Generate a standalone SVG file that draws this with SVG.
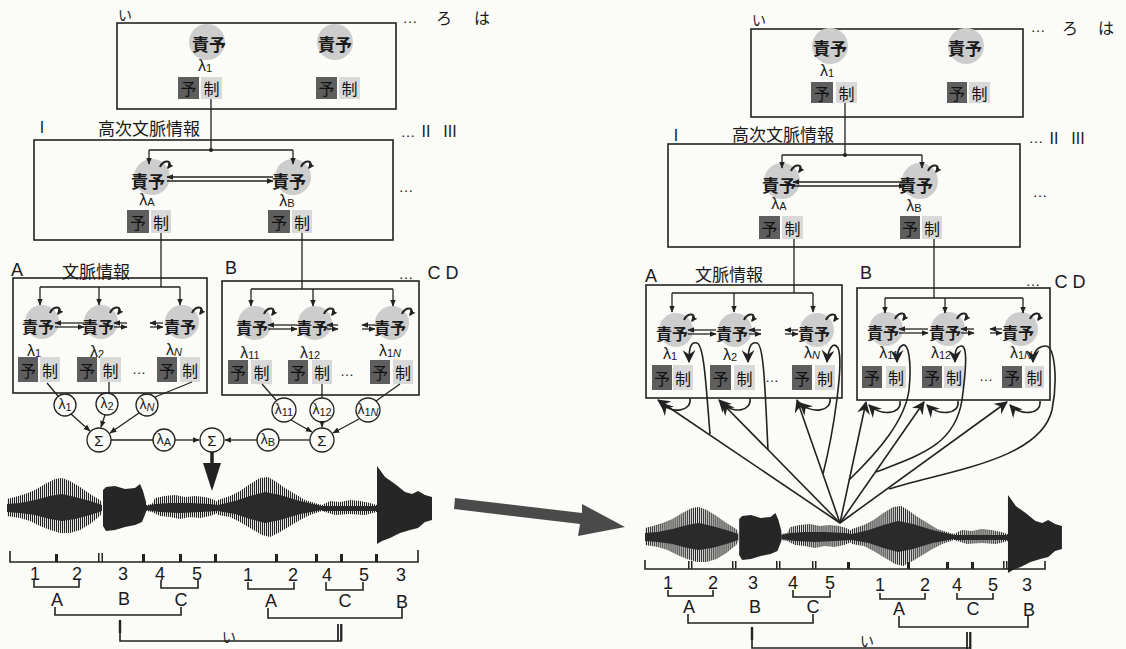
<svg xmlns="http://www.w3.org/2000/svg" xmlns:xlink="http://www.w3.org/1999/xlink" width="1126" height="649" viewBox="0 0 1126 649">
<style>
.box{fill:none;stroke:#222;stroke-width:1.6}
.ln{fill:none;stroke:#222;stroke-width:1.3}
.lt{fill:none;stroke:#222;stroke-width:1.6}
.bub{fill:#cdcdcd}
.yo{fill:#5e5e5e}
.sei{fill:#d9d9d9}
.kj{font-family:"Noto Sans CJK JP","Noto Sans CJK SC",sans-serif;font-weight:700;font-size:17px;fill:#1a1a1a;text-anchor:middle;dominant-baseline:central}
.k3{font-size:16px}
.pk{font-family:"Noto Sans CJK JP","Noto Sans CJK SC",sans-serif;font-size:16px;fill:#111;text-anchor:middle;dominant-baseline:central}
.jp{font-family:"Noto Sans CJK JP","Noto Sans CJK SC",sans-serif;font-size:17px;fill:#1a1a1a;dominant-baseline:central}
.lb{font-family:"Liberation Sans",Arial,sans-serif;font-size:18px;fill:#1a1a1a;text-anchor:middle;dominant-baseline:central}
.lam{font-family:"Liberation Sans",Arial,sans-serif;font-size:16px;fill:#1a1a1a;text-anchor:middle;dominant-baseline:central}
.cl{font-family:"Liberation Sans",Arial,sans-serif;font-size:14px;fill:#1a1a1a;text-anchor:middle;dominant-baseline:central}
.sub{font-size:11px}
.cc{fill:#fbfbf8;stroke:#222;stroke-width:1.3}
.loop{fill:none;stroke:#222;stroke-width:2}
.thk{fill:none;stroke:#222;stroke-width:1.6}
</style>
<defs>
<marker id="ah" viewBox="0 0 10 10" refX="9" refY="5" markerWidth="7" markerHeight="7" orient="auto" markerUnits="userSpaceOnUse"><path d="M0,1 L10,5 L0,9 z" fill="#222"/></marker>
<marker id="sm" viewBox="0 0 10 10" refX="8" refY="5" markerWidth="6" markerHeight="6" orient="auto" markerUnits="userSpaceOnUse"><path d="M0,0 L10,5 L0,10 z" fill="#222"/></marker>
<marker id="chev" viewBox="0 0 12 12" refX="11" refY="6" markerWidth="13" markerHeight="13" orient="auto" markerUnits="userSpaceOnUse"><path d="M0,0 L12,6 L0,12 L4,6 z" fill="#222"/></marker>
<pattern id="vs" width="2" height="4" patternUnits="userSpaceOnUse"><rect width="1.1" height="4" fill="#222"/></pattern>
<g id="wave">
<polygon fill="url(#vs)" points="7,499 15,497 25,494 35,490 45,484 55,479 62,478 70,481 80,487 90,494 100,500 102,503 102,513 100,516 90,524 80,530 70,533 60,533 50,530 40,526 30,521 20,518 7,516"/>
<polygon fill="#2a2a2a" points="7,504 20,503 35,500 50,496 62,494 75,497 90,501 102,505 102,511 90,515 75,519 62,521 50,519 35,515 20,513 7,512"/>
<polygon fill="#262626" points="103,490 106,487 115,486 125,489 135,488 140,484 143,491 146,502 146,512 142,522 135,525 125,527 115,530 106,531 103,526"/>
<polygon fill="url(#vs)" points="146,505 152,504 155,498 165,496 175,495 185,497 195,496 205,497 212,499 218,502 218,513 210,516 200,518 190,517 180,519 170,517 160,516 152,512 146,511"/>
<polygon fill="#2a2a2a" points="146,506 155,504 170,503 190,503 210,504 218,505 218,511 200,512 180,513 160,512 146,510"/>
<polygon fill="url(#vs)" points="218,500 230,496 240,491 250,484 260,478 268,477 275,481 285,488 295,494 305,500 315,503 322,505 322,511 310,515 300,520 290,526 280,532 270,537 262,535 250,528 240,522 230,517 218,515"/>
<polygon fill="#2a2a2a" points="218,505 235,501 250,496 265,492 280,495 300,501 322,506 322,510 300,514 280,520 265,523 250,519 235,514 218,511"/>
<polygon fill="url(#vs)" points="322,505 330,501 340,502 350,500 360,501 370,503 377,505 377,512 365,515 350,514 335,515 322,511"/>
<polygon fill="#2a2a2a" points="322,506 377,506 377,511 322,511"/>
<polygon fill="#262626" points="377,466 380,470 385,477 395,484 405,492 412,494 418,491 425,495 432,497 432,520 425,522 418,528 410,530 400,533 390,538 382,541 377,544"/>
</g>
</defs>
<rect width="1126" height="649" fill="#fbfbf8"/>

<!-- ===== LEFT PANEL ===== -->
<g id="left-boxes">
<rect class="box" x="117" y="23" width="279" height="86"/>
<rect class="box" x="34" y="140" width="359" height="100"/>
<rect class="box" x="13" y="278" width="194" height="115"/>
<rect class="box" x="222" y="281" width="197" height="114"/>
</g>
<g id="left-labels">
<text class="jp" x="118" y="14" style="font-size:14px">い</text>
<text class="lb" x="410" y="17" style="font-size:15px">…</text>
<text class="jp" x="436" y="17" style="font-size:16px">ろ</text>
<text class="jp" x="474" y="17" style="font-size:16px">は</text>
<text class="lb" x="42" y="127" style="font-size:16px">I</text>
<text class="jp" x="98" y="127">高次文脈情報</text>
<text class="lb" x="408" y="131" style="font-size:15px">…</text>
<text class="lb" x="426" y="131" style="font-size:16px">II</text>
<text class="lb" x="450" y="131" style="font-size:16px">III</text>
<text class="lb" x="406" y="186" style="font-size:15px">…</text>
<text class="lb" x="17" y="270">A</text>
<text class="jp" x="62" y="270">文脈情報</text>
<text class="lb" x="231" y="268">B</text>
<text class="lb" x="406" y="273" style="font-size:15px">…</text>
<text class="lb" x="434" y="273">C</text>
<text class="lb" x="452" y="273">D</text>
</g>

<g id="L1-n1">
<circle class="bub" cx="207" cy="42" r="18"/><text class="kj" x="209" y="43">責予</text>
<text class="lam" x="205" y="65">λ<tspan class="sub" dy="3">1</tspan></text>
<rect class="yo" x="178" y="77" width="21" height="22"/><text class="pk" x="188.5" y="88">予</text>
<rect class="sei" x="201" y="77" width="21" height="22"/><text class="pk" x="211.5" y="88">制</text>
</g>
<g id="L1-n2">
<circle class="bub" cx="335" cy="42" r="18"/><text class="kj" x="335" y="43">責予</text>
<rect class="yo" x="316" y="77" width="21" height="22"/><text class="pk" x="326.5" y="88">予</text>
<rect class="sei" x="339" y="77" width="21" height="22"/><text class="pk" x="349.5" y="88">制</text>
</g>
<g id="L2-A">
<circle class="bub" cx="152" cy="177" r="18"/><text class="kj" x="148" y="180">責予</text>
<text class="lam" x="147" y="199">λ<tspan class="sub" dy="3">A</tspan></text>
<rect class="yo" x="127" y="210" width="22" height="23"/><text class="pk" x="138" y="221.5">予</text>
<rect class="sei" x="151" y="210" width="20" height="23"/><text class="pk" x="161" y="221.5">制</text>
</g>
<g id="L2-B">
<circle class="bub" cx="293" cy="177" r="18"/><text class="kj" x="289" y="180">責予</text>
<text class="lam" x="287" y="200">λ<tspan class="sub" dy="3">B</tspan></text>
<rect class="yo" x="268" y="210" width="22" height="23"/><text class="pk" x="279" y="221.5">予</text>
<rect class="sei" x="292" y="210" width="20" height="23"/><text class="pk" x="302" y="221.5">制</text>
</g>
<g id="LA-1">
<circle class="bub" cx="42" cy="322" r="17"/><text class="kj k3" x="38" y="326">責予</text>
<text class="lam" x="34" y="350">λ<tspan class="sub" dy="3">1</tspan></text>
<rect class="yo" x="18" y="357" width="20" height="25"/><text class="pk" x="28" y="369.5">予</text>
<rect class="sei" x="40" y="357" width="20" height="25"/><text class="pk" x="50" y="369.5">制</text>
</g>
<g id="LA-2">
<circle class="bub" cx="101" cy="322" r="17"/><text class="kj k3" x="98" y="326">責予</text>
<text class="lam" x="97" y="351">λ<tspan class="sub" dy="3">2</tspan></text>
<rect class="yo" x="77" y="357" width="20" height="25"/><text class="pk" x="87" y="369.5">予</text>
<rect class="sei" x="100" y="357" width="21" height="25"/><text class="pk" x="110.5" y="369.5">制</text>
</g>
<g id="LA-N">
<circle class="bub" cx="182" cy="322" r="17"/><text class="kj k3" x="180" y="326">責予</text>
<text class="lam" x="174" y="349">λ<tspan class="sub" dy="3" font-style="italic">N</tspan></text>
<rect class="yo" x="157" y="357" width="20" height="25"/><text class="pk" x="167" y="369.5">予</text>
<rect class="sei" x="180" y="357" width="20" height="25"/><text class="pk" x="190" y="369.5">制</text>
</g>
<text class="lb" x="139" y="369" style="font-size:14px">…</text>
<g id="LB-1">
<circle class="bub" cx="255" cy="323" r="17"/><text class="kj k3" x="252" y="327">責予</text>
<text class="lam" x="250" y="352">λ<tspan class="sub" dy="3">11</tspan></text>
<rect class="yo" x="228" y="360" width="20" height="24"/><text class="pk" x="238" y="372">予</text>
<rect class="sei" x="251" y="360" width="21" height="24"/><text class="pk" x="261.5" y="372">制</text>
</g>
<g id="LB-2">
<circle class="bub" cx="315" cy="323" r="17"/><text class="kj k3" x="312" y="327">責予</text>
<text class="lam" x="310" y="352">λ<tspan class="sub" dy="3">12</tspan></text>
<rect class="yo" x="288" y="360" width="20" height="24"/><text class="pk" x="298" y="372">予</text>
<rect class="sei" x="312" y="360" width="20" height="24"/><text class="pk" x="322" y="372">制</text>
</g>
<g id="LB-N">
<circle class="bub" cx="392" cy="323" r="17"/><text class="kj k3" x="390" y="327">責予</text>
<text class="lam" x="390" y="350">λ<tspan class="sub" dy="3">1<tspan font-style="italic">N</tspan></tspan></text>
<rect class="yo" x="370" y="360" width="20" height="24"/><text class="pk" x="380" y="372">予</text>
<rect class="sei" x="393" y="360" width="20" height="24"/><text class="pk" x="403" y="372">制</text>
</g>
<text class="lb" x="347" y="371" style="font-size:14px">…</text>

<g id="left-circles">
<g id="c-l1"><circle class="cc" cx="65" cy="405" r="11"/><text class="cl" x="65" y="404">λ<tspan class="sub" dy="3">1</tspan></text></g>
<g id="c-l2"><circle class="cc" cx="107" cy="404" r="11"/><text class="cl" x="107" y="403">λ<tspan class="sub" dy="3">2</tspan></text></g>
<g id="c-lN"><circle class="cc" cx="147" cy="405" r="11"/><text class="cl" x="147" y="404">λ<tspan class="sub" dy="3" font-style="italic">N</tspan></text></g>
<g id="c-s1"><circle class="cc" cx="99" cy="440" r="12"/><text class="cl" x="99" y="440" style="font-size:15px">Σ</text></g>
<g id="c-lA"><circle class="cc" cx="164" cy="440" r="11"/><text class="cl" x="164" y="439">λ<tspan class="sub" dy="3">A</tspan></text></g>
<g id="c-s0"><circle class="cc" cx="212" cy="440" r="12"/><text class="cl" x="212" y="440" style="font-size:15px">Σ</text></g>
<g id="c-lB"><circle class="cc" cx="268" cy="440" r="11"/><text class="cl" x="268" y="439">λ<tspan class="sub" dy="3">B</tspan></text></g>
<g id="c-s2"><circle class="cc" cx="322" cy="440" r="12"/><text class="cl" x="322" y="440" style="font-size:15px">Σ</text></g>
<g id="c-l11"><circle class="cc" cx="284" cy="410" r="12"/><text class="cl" x="284" y="409">λ<tspan class="sub" dy="3">11</tspan></text></g>
<g id="c-l12"><circle class="cc" cx="322" cy="410" r="12"/><text class="cl" x="322" y="409">λ<tspan class="sub" dy="3">12</tspan></text></g>
<g id="c-l1N"><circle class="cc" cx="368" cy="410" r="12"/><text class="cl" x="368" y="409">λ<tspan class="sub" dy="3">1<tspan font-style="italic">N</tspan></tspan></text></g>
</g>

<g id="left-connectors">
<path class="ln" d="M211,99 V150 M149,150 H293"/>
<circle cx="211" cy="150" r="2" fill="#222"/>
<path class="ln" d="M149,150 V164" marker-end="url(#ah)"/>
<path class="ln" d="M293,150 V164" marker-end="url(#ah)"/>
<path class="ln" d="M273,177 H167" marker-end="url(#ah)"/>
<path class="ln" d="M167,181 H273" marker-end="url(#ah)"/>
<path class="ln" d="M161,233 V287 M40,287 H180"/>
<path class="ln" d="M40,287 V305" marker-end="url(#ah)"/>
<path class="ln" d="M99,287 V305" marker-end="url(#ah)"/>
<path class="ln" d="M180,287 V305" marker-end="url(#ah)"/>
<path class="ln" d="M302,233 V289 M251,289 H393"/>
<path class="ln" d="M251,289 V306" marker-end="url(#ah)"/>
<path class="ln" d="M313,289 V306" marker-end="url(#ah)"/>
<path class="ln" d="M393,289 V306" marker-end="url(#ah)"/>
<path class="ln" d="M84,323 H55" marker-end="url(#ah)"/>
<path class="ln" d="M55,327 H84" marker-end="url(#ah)"/>
<path class="ln" d="M127,323 H114" marker-end="url(#ah)"/>
<path class="ln" d="M114,327 H127" marker-end="url(#ah)"/>
<path class="ln" d="M163,323 H150" marker-end="url(#ah)"/>
<path class="ln" d="M150,327 H163" marker-end="url(#ah)"/>
<path class="ln" d="M297,325 H268" marker-end="url(#ah)"/>
<path class="ln" d="M268,329 H297" marker-end="url(#ah)"/>
<path class="ln" d="M338,325 H327" marker-end="url(#ah)"/>
<path class="ln" d="M327,329 H338" marker-end="url(#ah)"/>
<path class="ln" d="M375,325 H362" marker-end="url(#ah)"/>
<path class="ln" d="M362,329 H375" marker-end="url(#ah)"/>
<path class="loop" d="M160,167 C163,159 174,160 168,168" marker-end="url(#sm)"/>
<path class="loop" d="M301,167 C304,159 315,160 309,168" marker-end="url(#sm)"/>
<path class="loop" d="M50,313 C53,305 64,306 58,314" marker-end="url(#sm)"/>
<path class="loop" d="M110,313 C113,305 124,306 118,314" marker-end="url(#sm)"/>
<path class="loop" d="M192,313 C195,305 206,306 200,314" marker-end="url(#sm)"/>
<path class="loop" d="M264,314 C267,306 278,307 272,315" marker-end="url(#sm)"/>
<path class="loop" d="M324,314 C327,306 338,307 332,315" marker-end="url(#sm)"/>
<path class="loop" d="M402,314 C405,306 416,307 410,315" marker-end="url(#sm)"/>
<path class="ln" d="M47,383 L58,396 M109,382 V393 M192,382 L155,397"/>
<path class="ln" d="M71,414 L90,431" marker-end="url(#ah)"/>
<path class="ln" d="M105,415 L101,427" marker-end="url(#ah)"/>
<path class="ln" d="M139,413 L110,433" marker-end="url(#ah)"/>
<path class="ln" d="M111,440 H153"/>
<path class="ln" d="M175,440 H199" marker-end="url(#ah)"/>
<path class="ln" d="M310,440 H279"/>
<path class="ln" d="M257,440 H225" marker-end="url(#ah)"/>
<path class="ln" d="M262,384 L276,400 M322,384 V398 M400,384 L376,401"/>
<path class="ln" d="M291,420 L312,432" marker-end="url(#ah)"/>
<path class="ln" d="M322,422 V427" marker-end="url(#ah)"/>
<path class="ln" d="M359,419 L333,433" marker-end="url(#ah)"/>
<path d="M212,452 V466" stroke="#222" stroke-width="3.5"/>
<polygon points="203,463 221,463 212,491" fill="#222"/>
</g>

<g id="left-wave"><use href="#wave" xlink:href="#wave"/></g>
<g id="left-scale">
<path class="lt" d="M10,551 V562 H418 V550"/>
<g fill="#222">
<rect x="55" y="554" width="3" height="8"/><rect x="98" y="553" width="1.5" height="9"/><rect x="101.5" y="553" width="1.5" height="9"/>
<rect x="142" y="554" width="3" height="8"/><rect x="179" y="554" width="3" height="8"/><rect x="214" y="554" width="3" height="8"/>
<rect x="275" y="554" width="3" height="8"/><rect x="315" y="554" width="3" height="8"/><rect x="340" y="554" width="3" height="8"/><rect x="375" y="554" width="3" height="8"/>
</g>
<text class="lb" x="35" y="574">1</text><text class="lb" x="77" y="574">2</text><text class="lb" x="123" y="574">3</text><text class="lb" x="160" y="574">4</text><text class="lb" x="197" y="574">5</text>
<text class="lb" x="248" y="575">1</text><text class="lb" x="293" y="575">2</text><text class="lb" x="327" y="575">4</text><text class="lb" x="364" y="575">5</text><text class="lb" x="401" y="575">3</text>
<path class="lt" d="M34,580 V587 H79 V580 M161,580 V588 H198 V580 M248,582 V589 H294 V582 M326,582 V590 H363 V582"/>
<text class="lb" x="57" y="600">A</text><text class="lb" x="124" y="599">B</text><text class="lb" x="181" y="600">C</text>
<text class="lb" x="271" y="601">A</text><text class="lb" x="345" y="601">C</text><text class="lb" x="402" y="602">B</text>
<path class="lt" d="M55,607 V615 H181 V607 M268,608 V618 H402 V608"/>
<path class="lt" d="M120,620 V641 H341 V624"/>
<path d="M120,620 V633" stroke="#222" stroke-width="2.4"/>
<path d="M338,624 V641" stroke="#222" stroke-width="1.8"/>
<path d="M341.5,624 V641" stroke="#222" stroke-width="1.8"/>
<text class="jp" x="222" y="636" style="font-size:14px">い</text>
</g>

<g id="middle-arrow"><polygon points="455,498 582,513 582,504 625,527 578,536 580,524 454,509" fill="#4a4a4a"/></g>

<!-- ===== RIGHT PANEL ===== -->
<g id="right-boxes">
<rect class="box" x="751" y="29" width="272" height="88"/>
<rect class="box" x="668" y="144" width="352" height="103"/>
<rect class="box" x="646" y="285" width="196" height="113"/>
<rect class="box" x="857" y="288" width="193" height="112"/>
</g>
<g id="right-labels">
<text class="jp" x="752" y="19" style="font-size:14px">い</text>
<text class="lb" x="1038" y="26" style="font-size:15px">…</text>
<text class="jp" x="1062" y="27" style="font-size:16px">ろ</text>
<text class="jp" x="1098" y="27" style="font-size:16px">は</text>
<text class="lb" x="676" y="135" style="font-size:16px">I</text>
<text class="jp" x="732" y="133">高次文脈情報</text>
<text class="lb" x="1036" y="137" style="font-size:15px">…</text>
<text class="lb" x="1054" y="138" style="font-size:16px">II</text>
<text class="lb" x="1078" y="138" style="font-size:16px">III</text>
<text class="lb" x="1040" y="191" style="font-size:15px">…</text>
<text class="lb" x="651" y="276">A</text>
<text class="jp" x="695" y="273">文脈情報</text>
<text class="lb" x="866" y="273">B</text>
<text class="lb" x="1033" y="280" style="font-size:15px">…</text>
<text class="lb" x="1061" y="282">C</text>
<text class="lb" x="1079" y="282">D</text>
</g>

<g id="R1-n1">
<circle class="bub" cx="830" cy="46" r="18"/><text class="kj" x="830" y="47">責予</text>
<text class="lam" x="827" y="70">λ<tspan class="sub" dy="3">1</tspan></text>
<rect class="yo" x="811" y="82" width="22" height="21"/><text class="pk" x="822" y="92.5">予</text>
<rect class="sei" x="836" y="82" width="21" height="21"/><text class="pk" x="846.5" y="92.5">制</text>
</g>
<g id="R1-n2">
<circle class="bub" cx="966" cy="46" r="18"/><text class="kj" x="965" y="47">責予</text>
<rect class="yo" x="947" y="82" width="20" height="21"/><text class="pk" x="957" y="92.5">予</text>
<rect class="sei" x="969" y="82" width="21" height="21"/><text class="pk" x="979.5" y="92.5">制</text>
</g>
<g id="R2-A">
<circle class="bub" cx="782" cy="181" r="18"/><text class="kj" x="779" y="184">責予</text>
<text class="lam" x="779" y="203">λ<tspan class="sub" dy="3">A</tspan></text>
<rect class="yo" x="759" y="216" width="21" height="23"/><text class="pk" x="769.5" y="227.5">予</text>
<rect class="sei" x="782" y="216" width="21" height="23"/><text class="pk" x="792.5" y="227.5">制</text>
</g>
<g id="R2-B">
<circle class="bub" cx="920" cy="181" r="18"/><text class="kj" x="916" y="184">責予</text>
<text class="lam" x="914" y="205">λ<tspan class="sub" dy="3">B</tspan></text>
<rect class="yo" x="900" y="216" width="20" height="23"/><text class="pk" x="910" y="227.5">予</text>
<rect class="sei" x="922" y="216" width="20" height="23"/><text class="pk" x="932" y="227.5">制</text>
</g>
<g id="RA-1">
<circle class="bub" cx="676" cy="330" r="17"/><text class="kj k3" x="672" y="333">責予</text>
<text class="lam" x="670" y="353">λ<tspan class="sub" dy="3">1</tspan></text>
<rect class="yo" x="652" y="365" width="20" height="25"/><text class="pk" x="662" y="377.5">予</text>
<rect class="sei" x="673" y="365" width="20" height="25"/><text class="pk" x="683" y="377.5">制</text>
</g>
<g id="RA-2">
<circle class="bub" cx="735" cy="330" r="17"/><text class="kj k3" x="732" y="333">責予</text>
<text class="lam" x="730" y="354">λ<tspan class="sub" dy="3">2</tspan></text>
<rect class="yo" x="710" y="365" width="21" height="25"/><text class="pk" x="720.5" y="377.5">予</text>
<rect class="sei" x="734" y="365" width="21" height="25"/><text class="pk" x="744.5" y="377.5">制</text>
</g>
<g id="RA-N">
<circle class="bub" cx="817" cy="330" r="17"/><text class="kj k3" x="814" y="333">責予</text>
<text class="lam" x="812" y="352">λ<tspan class="sub" dy="3" font-style="italic">N</tspan></text>
<rect class="yo" x="792" y="365" width="20" height="25"/><text class="pk" x="802" y="377.5">予</text>
<rect class="sei" x="815" y="365" width="20" height="25"/><text class="pk" x="825" y="377.5">制</text>
</g>
<text class="lb" x="772" y="377" style="font-size:14px">…</text>
<g id="RB-1">
<circle class="bub" cx="886" cy="329" r="17"/><text class="kj k3" x="883" y="332">責予</text>
<text class="lam" x="889" y="352">λ<tspan class="sub" dy="3">11</tspan></text>
<rect class="yo" x="862" y="366" width="20" height="22"/><text class="pk" x="872" y="377">予</text>
<rect class="sei" x="886" y="366" width="20" height="22"/><text class="pk" x="896" y="377">制</text>
</g>
<g id="RB-2">
<circle class="bub" cx="948" cy="329" r="17"/><text class="kj k3" x="945" y="332">責予</text>
<text class="lam" x="941" y="352">λ<tspan class="sub" dy="3">12</tspan></text>
<rect class="yo" x="922" y="366" width="20" height="22"/><text class="pk" x="932" y="377">予</text>
<rect class="sei" x="944" y="366" width="20" height="22"/><text class="pk" x="954" y="377">制</text>
</g>
<g id="RB-N">
<circle class="bub" cx="1021" cy="329" r="17"/><text class="kj k3" x="1018" y="332">責予</text>
<text class="lam" x="1021" y="352">λ<tspan class="sub" dy="3">1<tspan font-style="italic">N</tspan></tspan></text>
<rect class="yo" x="1002" y="366" width="20" height="22"/><text class="pk" x="1012" y="377">予</text>
<rect class="sei" x="1025" y="366" width="19" height="22"/><text class="pk" x="1034.5" y="377">制</text>
</g>
<text class="lb" x="986" y="376" style="font-size:14px">…</text>

<g id="right-connectors">
<path class="ln" d="M845,103 V155 M782,155 H922"/>
<circle cx="845" cy="155" r="2" fill="#222"/>
<path class="ln" d="M782,155 V168" marker-end="url(#ah)"/>
<path class="ln" d="M922,155 V168" marker-end="url(#ah)"/>
<path class="ln" d="M905,182 H793" marker-end="url(#ah)"/>
<path class="ln" d="M793,186 H905" marker-end="url(#ah)"/>
<path class="ln" d="M794,239 V293 M672,293 H813"/>
<path class="ln" d="M672,293 V312" marker-end="url(#ah)"/>
<path class="ln" d="M734,293 V312" marker-end="url(#ah)"/>
<path class="ln" d="M813,293 V312" marker-end="url(#ah)"/>
<path class="ln" d="M934,239 V298 M885,298 H1023"/>
<path class="ln" d="M885,298 V313" marker-end="url(#ah)"/>
<path class="ln" d="M945,298 V313" marker-end="url(#ah)"/>
<path class="ln" d="M1023,298 V313" marker-end="url(#ah)"/>
<path class="ln" d="M716,330 H688" marker-end="url(#ah)"/>
<path class="ln" d="M688,334 H716" marker-end="url(#ah)"/>
<path class="ln" d="M761,330 H749" marker-end="url(#ah)"/>
<path class="ln" d="M749,334 H761" marker-end="url(#ah)"/>
<path class="ln" d="M798,330 H785" marker-end="url(#ah)"/>
<path class="ln" d="M785,334 H798" marker-end="url(#ah)"/>
<path class="ln" d="M928,329 H899" marker-end="url(#ah)"/>
<path class="ln" d="M899,333 H928" marker-end="url(#ah)"/>
<path class="ln" d="M974,329 H961" marker-end="url(#ah)"/>
<path class="ln" d="M961,333 H974" marker-end="url(#ah)"/>
<path class="ln" d="M1002,329 H990" marker-end="url(#ah)"/>
<path class="ln" d="M990,333 H1002" marker-end="url(#ah)"/>
<path class="loop" d="M791,171 C794,163 805,164 799,172" marker-end="url(#sm)"/>
<path class="loop" d="M928,171 C931,163 942,164 936,172" marker-end="url(#sm)"/>
<path class="loop" d="M684,320 C687,312 698,313 692,321" marker-end="url(#sm)"/>
<path class="loop" d="M744,320 C747,312 758,313 752,321" marker-end="url(#sm)"/>
<path class="loop" d="M826,320 C829,312 840,313 834,321" marker-end="url(#sm)"/>
<path class="loop" d="M895,319 C898,311 909,312 903,320" marker-end="url(#sm)"/>
<path class="loop" d="M957,319 C960,311 971,312 965,320" marker-end="url(#sm)"/>
<path class="loop" d="M1030,319 C1033,311 1044,312 1038,320" marker-end="url(#sm)"/>
<path class="thk" d="M840,523 L658,400" marker-end="url(#chev)"/>
<path class="thk" d="M840,523 L719,400" marker-end="url(#chev)"/>
<path class="thk" d="M840,523 L797,400" marker-end="url(#chev)"/>
<path class="thk" d="M840,523 L866,402" marker-end="url(#chev)"/>
<path class="thk" d="M840,523 L924,402" marker-end="url(#chev)"/>
<path class="thk" d="M840,523 L1007,402" marker-end="url(#chev)"/>
<path class="thk" d="M690,398 C692,412 672,414 661,403" marker-end="url(#chev)"/>
<path class="thk" d="M750,398 C752,412 732,414 722,403" marker-end="url(#chev)"/>
<path class="thk" d="M830,398 C832,412 812,414 800,403" marker-end="url(#chev)"/>
<path class="thk" d="M900,401 C902,415 880,416 869,405" marker-end="url(#chev)"/>
<path class="thk" d="M958,401 C960,415 938,416 927,405" marker-end="url(#chev)"/>
<path class="thk" d="M1040,401 C1042,415 1020,416 1010,405" marker-end="url(#chev)"/>
<path class="thk" d="M710,434 C706,385 704,345 697,343 C690,341 689,350 689,362" marker-end="url(#chev)"/>
<path class="thk" d="M768,450 C765,390 764,345 757,343 C750,341 748,350 748,362" marker-end="url(#chev)"/>
<path class="thk" d="M823,474 C834,430 844,362 838,348 C833,340 828,350 827,362" marker-end="url(#chev)"/>
<path class="thk" d="M849,480 C880,450 905,420 909,390 C912,360 908,343 903,345 C898,347 897,353 897,362" marker-end="url(#chev)"/>
<path class="thk" d="M876,472 C920,455 955,445 962,400 C966,370 968,345 961,346 C955,347 955,353 955,362" marker-end="url(#chev)"/>
<path class="thk" d="M889,489 C950,470 1040,460 1052,410 C1058,380 1055,345 1045,346 C1036,347 1033,353 1033,362" marker-end="url(#chev)"/>
</g>

<g id="right-wave"><use href="#wave" xlink:href="#wave" transform="translate(645,537) scale(0.981,1) translate(-7,-508)"/></g>
<g id="right-scale">
<path class="lt" d="M645,560 V569 H1045 V561"/>
<g fill="#222">
<rect x="688" y="561" width="1.5" height="8"/><rect x="691" y="561" width="1.5" height="8"/>
<rect x="732" y="561" width="1.5" height="8"/><rect x="735" y="561" width="1.5" height="8"/>
<rect x="776" y="561" width="1.5" height="8"/><rect x="779" y="561" width="1.5" height="8"/>
<rect x="812" y="561" width="1.5" height="8"/><rect x="815" y="561" width="1.5" height="8"/>
<rect x="847" y="562" width="3" height="7"/><rect x="907" y="562" width="3" height="7"/>
<rect x="946" y="562" width="3" height="7"/><rect x="971" y="562" width="3" height="7"/>
<rect x="1003" y="561" width="1.5" height="8"/><rect x="1006" y="561" width="1.5" height="8"/>
</g>
<text class="lb" x="668" y="583">1</text><text class="lb" x="713" y="583">2</text><text class="lb" x="753" y="583">3</text><text class="lb" x="793" y="583">4</text><text class="lb" x="830" y="583">5</text>
<text class="lb" x="880" y="585">1</text><text class="lb" x="925" y="585">2</text><text class="lb" x="957" y="585">4</text><text class="lb" x="993" y="585">5</text><text class="lb" x="1027" y="585">3</text>
<path class="lt" d="M668,590 V596 H713 V590 M793,590 V597 H830 V590 M880,593 V599 H925 V593 M957,593 V599 H993 V593"/>
<text class="lb" x="689" y="607">A</text><text class="lb" x="755" y="607">B</text><text class="lb" x="813" y="607">C</text>
<text class="lb" x="899" y="609">A</text><text class="lb" x="973" y="609">C</text><text class="lb" x="1029" y="610">B</text>
<path class="lt" d="M688,614 V623 H813 V614 M899,616 V627 H1028 V616"/>
<path class="lt" d="M752,627 V648 H970 V632"/>
<path d="M752,627 V640" stroke="#222" stroke-width="2.4"/>
<path d="M967,632 V649" stroke="#222" stroke-width="1.8"/>
<path d="M970.5,632 V649" stroke="#222" stroke-width="1.8"/>
<text class="jp" x="860" y="640" style="font-size:14px">い</text>
</g>
</svg>
